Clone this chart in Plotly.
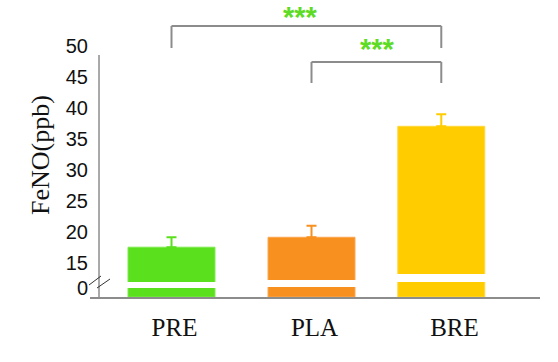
import plotly.graph_objects as go

# ---- data ----
categories = ["PRE", "PLA", "BRE"]
values = [19.0, 20.6, 38.5]
errors_up = [1.6, 1.85, 1.95]
y_tick_vals = [15, 20, 25, 30, 35, 40, 45, 50]
y_tick_text = ["15", "20", "25", "30", "35", "40", "45", "50"]
y_title = "FeNO(ppb)"
sig_labels = ["***", "***"]

# ---- style / layout geometry ----
W, H = 558, 362
ML, MR, MT, MB = 90, 18, 55, 65
PW, PH = W - ML - MR, H - MT - MB
colors = ["#5BE01E", "#F7901E", "#FFCC00"]
edge_colors = ["#7BEA4A", "#FBA650", "#FFD83A"]
gray = "#8C8C8C"
star_green = "#5EDB24"
PX_PER_UNIT = 6.2
Y_TOP = 50
upper_bottom_px = [282, 280, 274]   # where the upper (broken) part of each bar starts
lower_top_px = [288, 287, 282]      # where the lower stub of each bar ends
bar_width = 0.621
bar_shift = [0.0, 0.0, -0.073]


def fx(p):
    return (p - ML) / PW


def fy(p):
    return (H - MB - p) / PH


fig = go.Figure()
layout_axes = {}
tick_font = dict(family="Liberation Sans, Arial", size=20, color="#111")
for k, cat in enumerate(categories):
    up_name = "y" if k == 0 else f"y{2 * k + 1}"
    lo_name = f"y{2 * k + 2}"
    offs = -bar_width / 2 + bar_shift[k]
    fig.add_trace(go.Bar(
        x=[cat], y=[values[k]], xaxis="x", yaxis=up_name,
        width=bar_width, offset=offs,
        marker=dict(color=colors[k], line=dict(color=edge_colors[k], width=1)),
        error_y=dict(type="data", symmetric=False, array=[errors_up[k]],
                     arrayminus=[0], color=colors[k], thickness=2, width=5),
        showlegend=False, hoverinfo="skip",
    ))
    fig.add_trace(go.Bar(
        x=[cat], y=[values[k]], xaxis="x", yaxis=lo_name,
        width=bar_width, offset=offs,
        marker=dict(color=colors[k], line=dict(color=edge_colors[k], width=1)),
        showlegend=False, hoverinfo="skip",
    ))
    d_up = fy(upper_bottom_px[k])
    d_lo = fy(lower_top_px[k])
    up_range = [Y_TOP - (upper_bottom_px[k] - MT) / PX_PER_UNIT, Y_TOP]
    lo_range = [0, (H - MB - lower_top_px[k]) / PX_PER_UNIT]
    up_key = "yaxis" if k == 0 else f"yaxis{2 * k + 1}"
    lo_key = f"yaxis{2 * k + 2}"
    if k == 0:
        layout_axes[up_key] = dict(
            domain=[d_up, 1], range=up_range, anchor="free", position=fx(99),
            tickmode="array", tickvals=y_tick_vals, ticktext=y_tick_text,
            showgrid=False, zeroline=False, showline=False, ticks="",
            ticklabelshift=-9, ticklabelstandoff=11, automargin=False,
            tickfont=tick_font,
        )
        layout_axes[lo_key] = dict(
            domain=[0, d_lo], range=lo_range, anchor="free", position=fx(99),
            tickmode="array", tickvals=[0], ticktext=["0"],
            showgrid=False, zeroline=False, showline=False, ticks="",
            ticklabelshift=-9, ticklabelstandoff=11, automargin=False,
            tickfont=tick_font,
        )
    else:
        layout_axes[up_key] = dict(domain=[d_up, 1], range=up_range, anchor="x",
                                   visible=False, automargin=False)
        layout_axes[lo_key] = dict(domain=[0, d_lo], range=lo_range, anchor="x",
                                   visible=False, automargin=False)

x_center0 = 171.5
x_step = 140.0
x_range = [-(x_center0 - ML) / x_step, (ML + PW - x_center0) / x_step]

fig.update_layout(
    width=W, height=H,
    margin=dict(l=ML, r=MR, t=MT, b=MB),
    paper_bgcolor="white", plot_bgcolor="rgba(0,0,0,0)",
    xaxis=dict(
        type="category", categoryorder="array", categoryarray=categories,
        range=x_range, anchor="y2", showgrid=False, zeroline=False,
        showline=True, linecolor=gray, linewidth=1.5, ticks="",
        ticklabelshift=3, ticklabelstandoff=7, automargin=False,
        tickfont=dict(family="Liberation Serif, Times New Roman", size=25, color="#111"),
    ),
    **layout_axes,
)

# y axis line (continuous through the break)
fig.add_shape(type="line", xref="paper", yref="paper",
              x0=fx(99), x1=fx(99), y0=fy(297), y1=fy(55),
              line=dict(color=gray, width=1.5))
# break marks
for (xa, ya, xb, yb) in [(89, 285, 101, 276), (97, 288, 110, 279)]:
    fig.add_shape(type="line", xref="paper", yref="paper",
                  x0=fx(xa), y0=fy(ya), x1=fx(xb), y1=fy(yb),
                  line=dict(color="#333", width=1))

# significance brackets (ends at bar centres)
bar_pos = [i + bar_shift[i] for i in range(len(categories))]
brackets = [(0, 2, 26, 48), (1, 2, 62, 83)]
for (a, b, ytop, ybot) in brackets:
    xa, xb = bar_pos[a], bar_pos[b]
    for (x0, y0, x1, y1) in [(xa, ybot, xa, ytop), (xa, ytop, xb, ytop), (xb, ytop, xb, ybot)]:
        fig.add_shape(type="line", xref="x", yref="paper",
                      x0=x0, x1=x1, y0=fy(y0), y1=fy(y1),
                      line=dict(color=gray, width=2))

for (lab, px, py) in [(sig_labels[0], 300, 17), (sig_labels[1], 377, 49)]:
    fig.add_annotation(text=f"<b>{lab}</b>", xref="paper", yref="paper",
                       x=fx(px), y=fy(py), showarrow=False,
                       xanchor="center", yanchor="middle",
                       font=dict(family="Liberation Sans, Arial", size=29, color=star_green))

fig.add_annotation(text=y_title, xref="paper", yref="paper",
                   x=fx(40), y=fy(155), textangle=-90, showarrow=False,
                   xanchor="center", yanchor="middle",
                   font=dict(family="Liberation Serif, Times New Roman", size=26, color="#111"))

fig.write_html("out.html",
               config={"displayModeBar": False},
               post_script="document.body.style.margin='0';document.body.style.overflow='hidden';")
